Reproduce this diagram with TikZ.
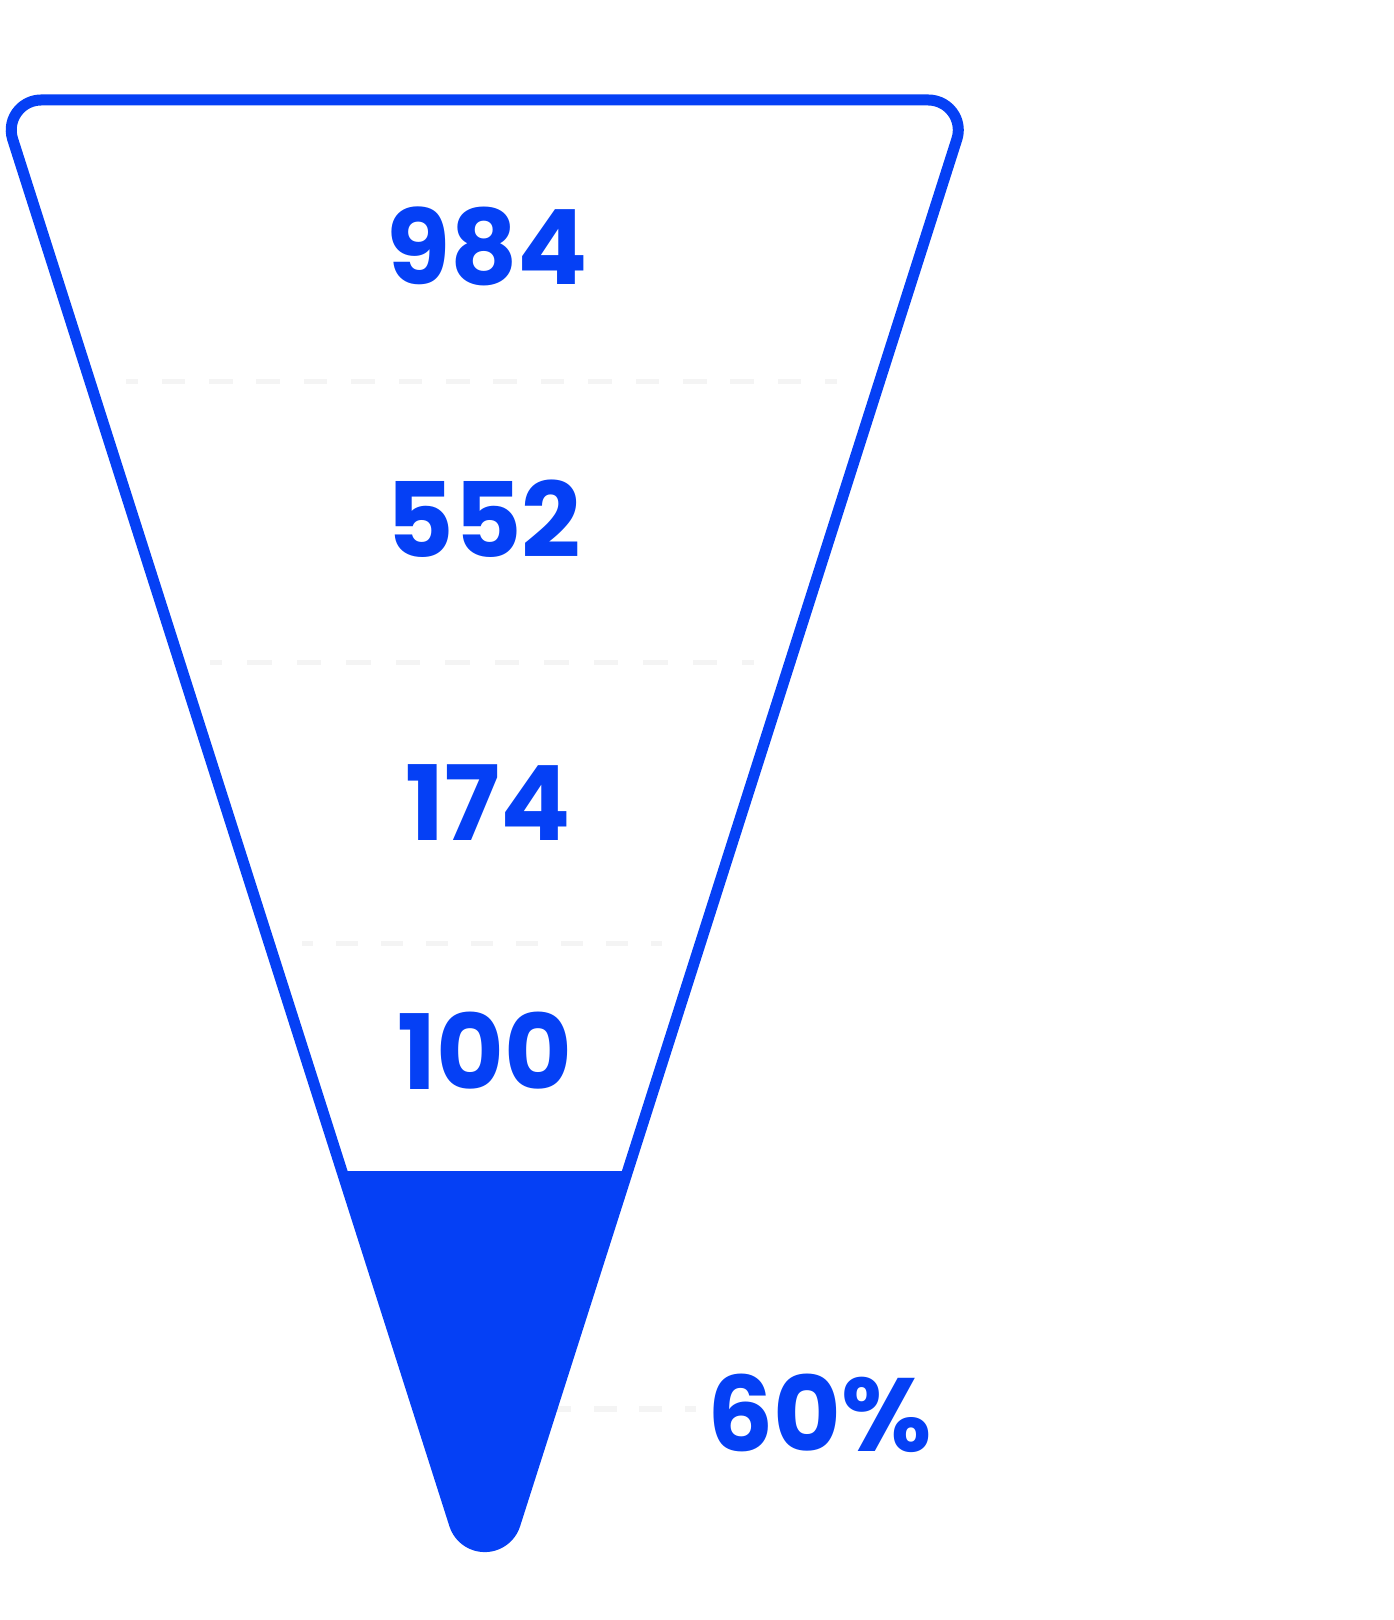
\documentclass[tikz,border=0pt]{standalone}
\usepackage{fontspec}
\setmainfont{Poppins}
\usetikzlibrary{calc}
\definecolor{fblue}{HTML}{0540F5}
\definecolor{dgray}{HTML}{F4F4F4}
\begin{document}
\begin{tikzpicture}[x=1pt,y=1pt,
  funnel/.style={draw=fblue, line width=11pt, line join=round},
  sep/.style={draw=dgray, line width=5.5pt},
  num/.style={text=fblue, font=\fontsize{104}{104}\selectfont\bfseries, inner sep=0pt}]
\useasboundingbox (0,0) rectangle (1394,1620);
\coordinate (C1) at (41.21,1490);
\coordinate (C2) at (928.29,1490);
\coordinate (C3) at (484.75,105);
% separator lines
\coordinate (s1a) at (126,1238.7); \coordinate (s1b) at (837,1238.7);
\coordinate (s2a) at (210,957.6);  \coordinate (s2b) at (754,957.6);
\coordinate (s3a) at (302,676.5);  \coordinate (s3b) at (662,676.5);
\coordinate (s4a) at (696,211);    \coordinate (s4b) at (540,211);
\draw[sep, dash pattern=on 23.7pt off 23.7pt, dash phase=11.85pt] (s1a) -- (s1b);
\draw[sep, dash pattern=on 24.75pt off 24.75pt, dash phase=12.4pt] (s2a) -- (s2b);
\draw[sep, dash pattern=on 22.5pt off 22.5pt, dash phase=11.25pt] (s3a) -- (s3b);
\draw[sep, dash pattern=on 22.7pt off 22.7pt, dash phase=11.35pt] (s4a) -- (s4b);
% filled bottom part
\begin{scope}
\clip (0,0) rectangle (1394,448);
\fill[fblue] (41.21,1520) -- (928.29,1520) arc[start angle=90,end angle=-17.69,radius=30]
  -- ($(C3)+(-17.69:31.6)$) arc[start angle=-17.69,end angle=-162.31,radius=31.6]
  -- ($(C1)+(197.69:30)$) arc[start angle=197.69,end angle=90,radius=30] -- cycle;
\end{scope}
% outline
\draw[funnel] (41.21,1520) -- (928.29,1520) arc[start angle=90,end angle=-17.69,radius=30]
  -- ($(C3)+(-17.69:31.6)$) arc[start angle=-17.69,end angle=-162.31,radius=31.6]
  -- ($(C1)+(197.69:30)$) arc[start angle=197.69,end angle=90,radius=30] -- cycle;
% numbers
\node[num] (n984) at (487,1373.5) {984};
\node[num] (n552) at (484,1101) {552};
\node[num] (n174) at (488,817) {174};
\node[num] (n100) at (485,569) {100};
\node[num] (pct) at (820,207) {60\%};
\end{tikzpicture}
\end{document}
